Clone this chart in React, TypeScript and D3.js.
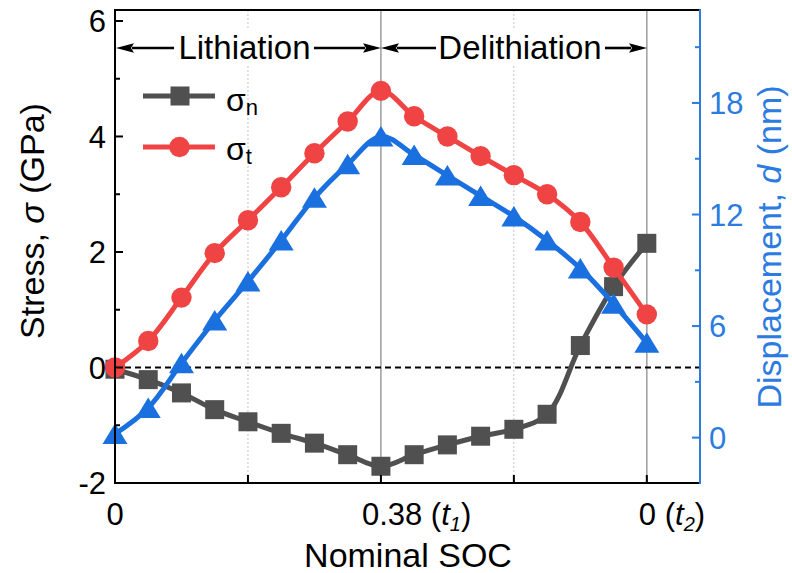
import React from "react";
import * as d3 from "d3";

// ---- data ----
const stepIndex = [0, 1, 2, 3, 4, 5, 6, 7, 8, 9, 10, 11, 12, 13, 14, 15, 16];
const sigmaN = [-0.03, -0.21, -0.44, -0.73, -0.94, -1.14, -1.31, -1.51, -1.71, -1.51, -1.34, -1.19, -1.07, -0.81, 0.38, 1.4, 2.15];
const sigmaT = [0, 0.46, 1.21, 1.98, 2.55, 3.12, 3.71, 4.26, 4.79, 4.35, 4.0, 3.66, 3.33, 3.0, 2.52, 1.73, 0.92];
const displacement = [0.2, 1.6, 4.0, 6.3, 8.4, 10.6, 12.9, 14.7, 16.2, 15.2, 14.1, 13.0, 11.9, 10.6, 9.1, 7.2, 5.1];

const leftMajorTicks = [-2, 0, 2, 4, 6];
const leftMinorTicks = [-1, 1, 3, 5];
const rightMajorTicks = [0, 6, 12, 18];
const rightMinorTicks = [3, 9, 15, 21];
const bottomTickSteps = [4, 8, 12, 16];
const solidGridSteps = [8, 16];
const dottedGridSteps = [4, 12];
const xTickLabels = [
  { step: 0, text: "0", sub: "" },
  { step: 8, text: "0.38", sub: "1" },
  { step: 16, text: "0", sub: "2" },
];

// ---- layout ----
const W = 792, H = 573;
const L = 115, R = 700, T = 10, B = 483;
const FONT = "'Liberation Sans', Arial, Helvetica, sans-serif";
const GRAY = "#505050", RED = "#F04343", BLUE = "#1B70DF", AXBLUE = "#2B7BE0";

const x = d3.scaleLinear().domain([0, 17.6]).range([L, R]);
const yL = d3.scaleLinear().domain([-2, 6.19]).range([B, T]);
const yR = d3.scaleLinear().domain([-2.44, 23.0]).range([B, T]);

const curve = d3.curveCatmullRom.alpha(0.5);
const lineN = d3.line<number>().x((_, i) => x(stepIndex[i])).y((v) => yL(v)).curve(curve);
const lineT = d3.line<number>().x((_, i) => x(stepIndex[i])).y((v) => yL(v)).curve(curve);
const lineD = d3.line<number>().x((_, i) => x(stepIndex[i])).y((v) => yR(v)).curve(curve);

const tri = (cx: number, cy: number) => `M${cx},${cy - 10.5}L${cx + 12.5},${cy + 10}L${cx - 12.5},${cy + 10}Z`;

function Arrow({ x1, x2, y }: { x1: number; x2: number; y: number }) {
  const dir = x2 > x1 ? 1 : -1;
  const base = x2 - dir * 18;
  return (
    <g>
      <line x1={x1} x2={base + dir * 2} y1={y} y2={y} stroke="#000" strokeWidth={2.6} />
      <path d={`M${x2},${y}L${base},${y - 4.8}L${base + dir * 3},${y}L${base},${y + 4.8}Z`} fill="#000" />
    </g>
  );
}

export default function App() {
  const arrowY = 48;
  return (
    <svg width={W} height={H} style={{ position: "absolute", left: 0, top: 0, background: "#fff" }} fontFamily={FONT}>
      <rect x={0} y={0} width={W} height={H} fill="#fff" />
      {dottedGridSteps.map((s) => (
        <line key={"dg" + s} x1={x(s)} x2={x(s)} y1={T} y2={B} stroke="#c4c4c4" strokeWidth={1} strokeDasharray="2,2" />
      ))}
      {solidGridSteps.map((s) => (
        <line key={"sg" + s} x1={x(s)} x2={x(s)} y1={T} y2={B} stroke="#a3a3a3" strokeWidth={1.6} />
      ))}
      <line x1={L} x2={R} y1={yL(0)} y2={yL(0)} stroke="#000" strokeWidth={2} strokeDasharray="6,4" />

      <path d={lineN(sigmaN) || ""} fill="none" stroke={GRAY} strokeWidth={5} />
      {sigmaN.map((v, i) => (
        <rect key={"n" + i} x={x(stepIndex[i]) - 9.5} y={yL(v) - 9.5} width={19} height={19} fill={GRAY} />
      ))}
      <path d={lineT(sigmaT) || ""} fill="none" stroke={RED} strokeWidth={5} />
      {sigmaT.map((v, i) => (
        <circle key={"t" + i} cx={x(stepIndex[i])} cy={yL(v)} r={10.2} fill={RED} />
      ))}
      <path d={lineD(displacement) || ""} fill="none" stroke={BLUE} strokeWidth={5} />
      {displacement.map((v, i) => (
        <path key={"d" + i} d={tri(x(stepIndex[i]), yR(v))} fill={BLUE} />
      ))}

      <line x1={L} x2={R} y1={T} y2={T} stroke="#000" strokeWidth={2} />
      <line x1={L} x2={R} y1={B} y2={B} stroke="#000" strokeWidth={2} />
      <line x1={L} x2={L} y1={T - 1} y2={B + 1} stroke="#000" strokeWidth={2} />
      <line x1={R} x2={R} y1={T - 1} y2={B + 1} stroke={AXBLUE} strokeWidth={2} />

      {leftMajorTicks.map((v) => (
        <g key={"lt" + v}>
          <line x1={L} x2={L + 8} y1={yL(v)} y2={yL(v)} stroke="#000" strokeWidth={2} />
          <text x={106} y={yL(v)} dy="0.36em" textAnchor="end" fontSize={31}>{v < 0 ? "-" + Math.abs(v) : v}</text>
        </g>
      ))}
      {leftMinorTicks.map((v) => (
        <line key={"lm" + v} x1={L} x2={L + 5} y1={yL(v)} y2={yL(v)} stroke="#000" strokeWidth={2} />
      ))}
      {rightMajorTicks.map((v) => (
        <g key={"rt" + v}>
          <line x1={R} x2={R - 8} y1={yR(v)} y2={yR(v)} stroke={AXBLUE} strokeWidth={2} />
          <text x={709} y={yR(v)} dy="0.36em" textAnchor="start" fontSize={31} fill={AXBLUE}>{v}</text>
        </g>
      ))}
      {rightMinorTicks.map((v) => (
        <line key={"rm" + v} x1={R} x2={R - 5} y1={yR(v)} y2={yR(v)} stroke={AXBLUE} strokeWidth={2} />
      ))}
      {bottomTickSteps.map((s) => (
        <line key={"bt" + s} x1={x(s)} x2={x(s)} y1={B} y2={B - 8} stroke="#000" strokeWidth={2} />
      ))}
      {xTickLabels.map((t) =>
        t.sub === "" ? (
          <text key={"xl" + t.step} x={x(t.step)} y={525} textAnchor="middle" fontSize={31}>{t.text}</text>
        ) : (
          <text key={"xl" + t.step} x={x(t.step) - (t.text.length > 1 ? 19 : 8)} y={525} textAnchor="start" fontSize={31}>
            {t.text} (<tspan fontStyle="italic">t</tspan>
            <tspan fontSize={20} fontStyle="italic" dy={6}>{t.sub}</tspan>
            <tspan dy={-6}>)</tspan>
          </text>
        )
      )}

      <text x={408} y={567} textAnchor="middle" fontSize={34}>Nominal SOC</text>
      <text transform={`translate(44,221) rotate(-90)`} textAnchor="middle" fontSize={34}>
        Stress, <tspan fontStyle="italic">σ</tspan> (GPa)
      </text>
      <text transform={`translate(781,247) rotate(-90)`} textAnchor="middle" fontSize={34} fill={AXBLUE}>
        Displacement, <tspan fontStyle="italic">d</tspan> (nm)
      </text>

      <Arrow x1={174} x2={116} y={arrowY} />
      <Arrow x1={314} x2={381} y={arrowY} />
      <Arrow x1={436} x2={381} y={arrowY} />
      <Arrow x1={605} x2={647} y={arrowY} />
      <rect x={176} y={30} width={137} height={36} fill="#fff" />
      <rect x={436} y={30} width={168} height={36} fill="#fff" />
      <text x={244.5} y={59} textAnchor="middle" fontSize={33}>Lithiation</text>
      <text x={520} y={59} textAnchor="middle" fontSize={33}>Delithiation</text>

      <line x1={143} x2={215} y1={96} y2={96} stroke={GRAY} strokeWidth={5} />
      <rect x={170.5} y={86.5} width={19} height={19} fill={GRAY} />
      <text x={226} y={111} fontSize={32}>σ<tspan fontSize={22} dy={4}>n</tspan></text>
      <line x1={143} x2={215} y1={147} y2={147} stroke={RED} strokeWidth={5} />
      <circle cx={179.5} cy={147} r={10.2} fill={RED} />
      <text x={226} y={160} fontSize={32}>σ<tspan fontSize={22} dy={4}>t</tspan></text>
    </svg>
  );
}
